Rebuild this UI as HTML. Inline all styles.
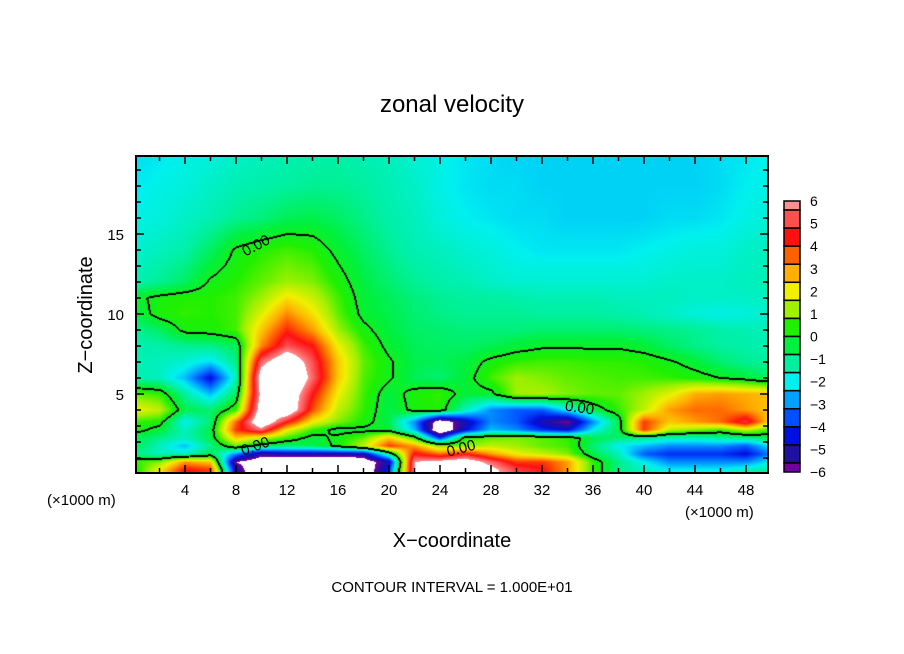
<!DOCTYPE html>
<html><head><meta charset="utf-8"><style>
body{margin:0;background:#fff;width:904px;height:654px;overflow:hidden;position:relative;font-family:"Liberation Sans",sans-serif;}
svg{position:absolute;left:0;top:0}
canvas{position:absolute;left:136px;top:156px}
</style></head><body>
<canvas id="cv" width="632" height="317"></canvas>
<svg id="sv" width="904" height="654">
<text x="452" y="112" font-size="24" text-anchor="middle">zonal velocity</text>
<text x="452" y="547" font-size="20" text-anchor="middle">X−coordinate</text>
<text transform="translate(92,315) rotate(-90)" font-size="20" text-anchor="middle">Z−coordinate</text>
<text x="47" y="505" font-size="15">(×1000 m)</text>
<text x="685" y="517" font-size="15">(×1000 m)</text>
<text x="452" y="592" font-size="15" text-anchor="middle">CONTOUR INTERVAL = 1.000E+01</text>
<g id="ax"></g>
<g font-size="15">
<text x="240" y="249" transform="rotate(-28 258 242)">0.00</text>
<text x="240" y="450" transform="rotate(-20 258 444)">0.00</text>
<text x="565" y="413" transform="rotate(8 583 408)">0.00</text>
<text x="446" y="452" transform="rotate(-15 465 446)">0.00</text>
</g>
</svg>
<script>
const xs=[0,2,4,6,8,10,12,14,16,18,20,22,24,26,28,30,32,34,36,38,40,42,44,46,48,50];
const zs=[0.25,0.75,1.25,1.75,2.25,2.75,3.25,4,5,6,7,8,9,10,11,12,14,16,18,20];
const u=[
[0.0,2.0,4.5,4.0,-5.0,-8.0,-8.5,-8.5,-8.5,-7.5,-4.0,6.0,7.0,7.5,6.5,5.0,4.5,3.0,0.5,-1.0,-1.5,-2.0,-2.0,-2.0,-1.5,-1.0],
[0.5,1.0,3.0,2.5,-6.0,-7.0,-8.0,-8.0,-8.0,-7.0,-5.0,6.0,6.5,7.0,5.5,4.0,4.0,3.0,0.5,-1.0,-2.0,-3.0,-3.0,-3.0,-3.0,-2.0],
[-1.0,-1.5,-1.5,-0.5,-3.0,-5.5,-5.0,-5.0,-5.0,-5.0,-1.0,4.5,3.5,4.5,3.0,2.0,1.5,1.0,-0.5,-1.5,-3.5,-4.0,-4.0,-4.0,-4.5,-3.0],
[-0.5,-1.5,-2.5,-1.0,0.8,-0.5,-0.8,-0.6,0.2,1.5,4.0,3.0,1.0,1.0,1.5,1.2,0.8,0.6,-0.8,-2.0,-2.5,-3.0,-3.0,-3.0,-3.5,-2.0],
[-0.5,-1.0,-1.5,-0.5,2.5,1.5,0.5,-0.3,0.2,0.8,2.5,0.5,-4.0,0.5,0.8,1.0,0.8,0.5,-0.5,-0.8,-1.0,-1.5,-1.5,-1.2,-1.0,-0.5],
[0.3,-0.3,-1.5,-0.5,4.0,5.5,2.0,0.5,-0.3,-0.2,-0.3,-2.5,-7.5,-4.5,-2.5,-3.0,-4.0,-4.5,-2.0,-0.5,4.0,1.5,1.0,0.5,1.5,0.5],
[0.5,0.3,-2.0,-0.8,3.5,7.5,4.5,2.0,1.0,0.3,-0.5,-3.0,-7.0,-5.0,-3.0,-3.5,-5.0,-6.0,-3.0,-0.5,4.0,2.5,3.0,3.5,5.0,2.0],
[2.0,1.5,-0.5,-0.8,0.5,7.0,7.5,3.8,1.5,0.5,-0.5,0.2,0.4,-1.5,-3.0,-3.5,-3.5,-2.0,-0.5,0.5,1.5,3.0,3.5,3.5,3.0,2.5],
[0.8,0.5,-1.2,-2.5,-0.6,6.5,7.5,4.5,2.0,0.6,-0.4,0.3,0.5,-0.3,-0.2,1.2,1.3,1.0,0.8,0.8,1.2,1.8,2.8,3.0,2.8,2.6],
[-1.3,-1.5,-2.5,-4.5,-1.5,7.0,8.5,5.5,2.5,0.7,0.1,-0.6,-0.8,-0.3,0.6,1.2,1.0,0.8,0.7,0.6,0.6,0.5,0.3,0.0,-0.3,-0.8],
[-1.4,-1.5,-1.7,-2.2,-1.0,5.5,7.5,5.2,2.5,0.8,0.1,-0.5,-0.6,-0.4,0.2,0.5,0.6,0.6,0.5,0.5,0.4,0.1,-0.3,-0.8,-1.1,-1.2],
[-1.4,-1.3,-1.1,-1.0,-0.6,3.2,5.2,4.4,2.0,0.6,-0.2,-0.6,-0.7,-0.7,-0.6,-0.3,-0.1,-0.1,-0.1,-0.1,-0.3,-0.7,-1.0,-1.2,-1.3,-1.4],
[-1.1,-0.7,0.2,0.3,0.6,2.5,4.2,3.0,1.2,0.2,-0.4,-0.7,-0.8,-0.9,-0.9,-0.9,-0.8,-0.8,-0.8,-0.8,-0.9,-1.0,-1.1,-1.3,-1.4,-1.5],
[-0.5,0.3,0.5,0.4,0.6,1.8,3.2,2.2,0.8,-0.2,-0.5,-0.8,-1.0,-1.1,-1.1,-1.1,-1.2,-1.2,-1.2,-1.3,-1.4,-1.6,-1.8,-1.9,-1.8,-1.6],
[-0.2,0.2,0.4,0.4,0.6,1.2,2.2,1.6,0.6,-0.3,-0.6,-0.9,-1.1,-1.2,-1.2,-1.3,-1.4,-1.4,-1.4,-1.5,-1.5,-1.5,-1.6,-1.6,-1.6,-1.5],
[-1.4,-1.1,-0.7,0.1,0.4,0.8,1.2,1.0,0.3,-0.4,-0.8,-1.1,-1.3,-1.4,-1.6,-1.7,-1.7,-1.7,-1.7,-1.7,-1.7,-1.6,-1.6,-1.6,-1.5,-1.4],
[-1.7,-1.5,-1.3,-0.7,0.1,0.4,0.6,0.4,-0.2,-0.7,-1.1,-1.4,-1.5,-1.7,-1.8,-2.0,-2.1,-2.1,-2.1,-2.1,-2.0,-1.9,-1.8,-1.8,-1.6,-1.5],
[-1.9,-1.8,-1.6,-1.4,-1.1,-0.9,-0.6,-0.5,-0.7,-1.0,-1.3,-1.5,-1.8,-2.0,-2.1,-2.2,-2.2,-2.3,-2.3,-2.3,-2.3,-2.2,-2.2,-2.1,-1.9,-1.7],
[-2.1,-1.9,-1.8,-1.6,-1.4,-1.3,-1.2,-1.1,-1.1,-1.2,-1.4,-1.6,-1.9,-2.1,-2.2,-2.2,-2.3,-2.3,-2.3,-2.3,-2.3,-2.3,-2.3,-2.2,-2.0,-1.9],
[-2.2,-2.1,-1.9,-1.8,-1.6,-1.5,-1.4,-1.3,-1.3,-1.4,-1.5,-1.7,-1.9,-2.1,-2.2,-2.3,-2.3,-2.3,-2.3,-2.3,-2.3,-2.3,-2.3,-2.2,-2.1,-1.9]
];
const barColors=["#7000a0","#2010a0","#0010e0","#0050ff","#00a0ff","#00f0f0","#00f0a0","#00f040","#20f000","#a0f000","#f0f000","#ffb000","#ff6000","#ff1010","#ff5050","#ff9090"];
const barLabels=["6","5","4","3","2","1","0","−1","−2","−3","−4","−5","−6"];
const xTicks=[4,8,12,16,20,24,28,32,36,40,44,48];
const yTicks=[5,10,15];

const X0=134,XS=12.75,Z0=474,ZS=16;
const px=x=>X0+XS*x, pz=z=>Z0-ZS*z;
const ix=x=>(x-X0)/XS, iz=y=>(Z0-y)/ZS;
function hex(h){return [parseInt(h.substr(1,2),16),parseInt(h.substr(3,2),16),parseInt(h.substr(5,2),16)];}
const rgb=barColors.map(hex);
function col(v){
  if(v>6||v<-6)return [255,255,255];
  let t=(v+6)/12*(rgb.length-1);let i=Math.min(rgb.length-2,Math.floor(t));let f=t-i;
  return [0,1,2].map(k=>rgb[i][k]*(1-f)+rgb[i+1][k]*f);
}
function seg(arr,v){let n=arr.length;if(v<=arr[0])return[0,0];if(v>=arr[n-1])return[n-2,1];
  for(let i=0;i<n-1;i++)if(v<=arr[i+1])return[i,(v-arr[i])/(arr[i+1]-arr[i])];}
function val(x,z){const[a,fa]=seg(xs,x),[b,fb]=seg(zs,z);
  return (u[b][a]*(1-fa)+u[b][a+1]*fa)*(1-fb)+(u[b+1][a]*(1-fa)+u[b+1][a+1]*fa)*fb;}
const cv=document.getElementById('cv'),ctx=cv.getContext('2d');
const W=632,H=317,img=ctx.createImageData(W,H),V=new Float32Array(W*H);
for(let j=0;j<H;j++)for(let i=0;i<W;i++)V[j*W+i]=val(ix(136.5+i),iz(156.5+j));
for(let j=0;j<H;j++)for(let i=0;i<W;i++){
  const v=V[j*W+i];let c=col(v);
  const r=i<W-1?V[j*W+i+1]:v,d=j<H-1?V[(j+1)*W+i]:v;
  const l=i>0?V[j*W+i-1]:v,up=j>0?V[(j-1)*W+i]:v;
  if(v*r<0||v*d<0||v*l<0||v*up<0)c=[0,0,0];
  const o=(j*W+i)*4;img.data[o]=c[0];img.data[o+1]=c[1];img.data[o+2]=c[2];img.data[o+3]=255;
}
ctx.putImageData(img,0,0);

const NS='http://www.w3.org/2000/svg',ax=document.getElementById('ax');
function mk(tag,at,txt){const e=document.createElementNS(NS,tag);for(const k in at)e.setAttribute(k,at[k]);if(txt!==undefined)e.textContent=txt;ax.appendChild(e);return e;}
const fr=mk('rect',{x:136,y:156,width:632,height:317,fill:'none',stroke:'#000','stroke-width':2});


for(let x=2;x<=48;x+=2){const L=(x%4===0)?8:5;
  mk('line',{x1:px(x),x2:px(x),y1:473,y2:473-L,stroke:'#000','stroke-width':1.5});
  mk('line',{x1:px(x),x2:px(x),y1:156,y2:156+L,stroke:'#000','stroke-width':1.5});}
for(let z=1;z<=19;z++){const L=(z%5===0)?8:5;
  mk('line',{x1:136,x2:136+L,y1:pz(z),y2:pz(z),stroke:'#000','stroke-width':1.5});
  mk('line',{x1:768,x2:768-L,y1:pz(z),y2:pz(z),stroke:'#000','stroke-width':1.5});}
xTicks.forEach(x=>{const t=mk('text',{x:px(x),y:495,'font-size':15,'text-anchor':'middle'},String(x));
  
  });
yTicks.forEach(z=>{const t=mk('text',{x:124,y:pz(z)+6,'font-size':15,'text-anchor':'end'},String(z));
  
  });
const bT=201,bB=472,n=barColors.length,bh=(bB-bT)/(n-1);
for(let k=0;k<n;k++){const cidx=n-1-k;
  let y0=bT+(k-0.5)*bh,y1=y0+bh;y0=Math.max(y0,bT);y1=Math.min(y1,bB);
  const r=mk('rect',{x:784,y:y0,width:16,height:y1-y0,fill:barColors[cidx],stroke:'#000','stroke-width':1.5});
  
  }
barLabels.forEach((s,k)=>{const t=mk('text',{x:810,y:bT+k*(bB-bT)/(barLabels.length-1)+5,'font-size':14},s);
  
  });
</script>
</body></html>
